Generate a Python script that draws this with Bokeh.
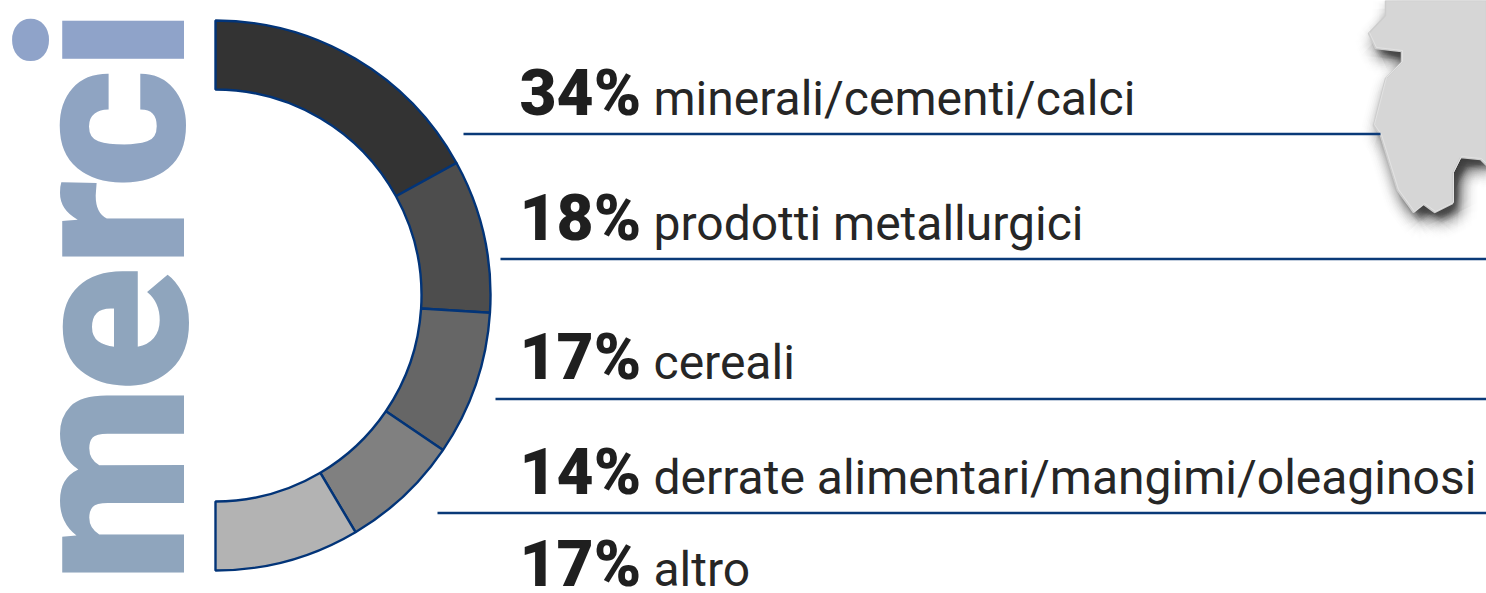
from bokeh.plotting import figure
from bokeh.embed import file_html
from bokeh.resources import INLINE
from bokeh.core.properties import value
import numpy as np

# data
categories = ["minerali/cementi/calci", "prodotti metallurgici", "cereali",
              "derrate alimentari/mangimi/oleaginosi", "altro"]
shares = [34, 18, 17, 14, 17]
fills = ["#333333", "#4d4d4d", "#666666", "#808080", "#b3b3b3"]
title_letters = ["m", "e", "r", "c", "i"]
title_colors = ["#8fa5bd", "#8fa5bd", "#8fa4c0", "#8fa4c2", "#8fa3c9"]

# map outline (page pixels)
map_x = [1385, 1385, 1368, 1375, 1401, 1401, 1385, 1373, 1380, 1397, 1413, 1423, 1434, 1452, 1452, 1460, 1480, 1486, 1486]
map_y = [0, 15, 33, 48, 51, 62, 78, 125, 135, 190, 212, 204, 212, 203, 173, 157, 159, 165, 0]

W, H = 1486, 593
def py(v):
    return H - np.asarray(v, dtype=float)

p = figure(width=W, height=H, x_range=(0, W), y_range=(0, H),
           x_axis_type=None, y_axis_type=None, toolbar_location=None,
           output_backend="svg", min_border=0, outline_line_color=None,
           background_fill_color="white", border_fill_color="white")
p.grid.visible = False

NAVY = "#0a3a78"

# soft map shadow: stacked faint copies around an offset centre
mx, my = np.array(map_x, float), py(map_y)
dirs = [(np.cos(t), np.sin(t)) for t in np.linspace(0, 2 * np.pi, 16, endpoint=False)]
for grow in range(20, 0, -2):
    for dx, dy in dirs:
        p.patch(mx + 6 + dx * grow, my - 8 + dy * grow, fill_color="black",
                fill_alpha=0.0042 + 0.0008 * (20 - grow) / 2, line_color=None)
p.patch(mx, my, fill_color="#d6d6d6", line_color="#cdcdcd", line_width=1.5)
p.line(mx[2:-1] + 1, my[2:-1] + 1, line_color="#e2e2e2", line_width=1)

# separators
sep_y = [133.5, 258.5, 398.5, 512.5]
sep_x0 = [463, 500, 495, 437]
sep_x1 = [1380, 1486, 1486, 1486]
p.segment(sep_x0, py(sep_y), sep_x1, py(sep_y), line_color=NAVY, line_width=2.4)

# half ring
cum = np.cumsum([0] + shares) / sum(shares)
start = np.pi / 2 - cum[1:] * np.pi
end = np.pi / 2 - cum[:-1] * np.pi
p.annular_wedge(x=215, y=py(295), inner_radius=206, outer_radius=275,
                start_angle=start, end_angle=end, fill_color=fills,
                line_color="#023478", line_width=2.4)

# labels
base = np.array([115, 240, 379, 494, 586], float)
p.text([519] * 5, py(base - 22.5), text=[f"{s}%" for s in shares], text_font=value("Roboto Black"),
       text_font_size="64px", text_color="#1f1f1f", text_baseline="middle", text_align="left")
p.text([653] * 5, py(base - 17), text=categories, text_font=value("Roboto"),
       text_font_size="48px", text_color="#262626", text_baseline="middle", text_align="left")

# vertical title
title_y = [583, 392, 267, 188, 71]
p.text([104] * 5, py(title_y), text=title_letters, angle=np.pi / 2, text_font=value("Roboto Black"),
       text_font_size="231px", text_color=title_colors, text_baseline="middle", text_align="left")

open("out.html", "w").write(file_html(p, INLINE))
